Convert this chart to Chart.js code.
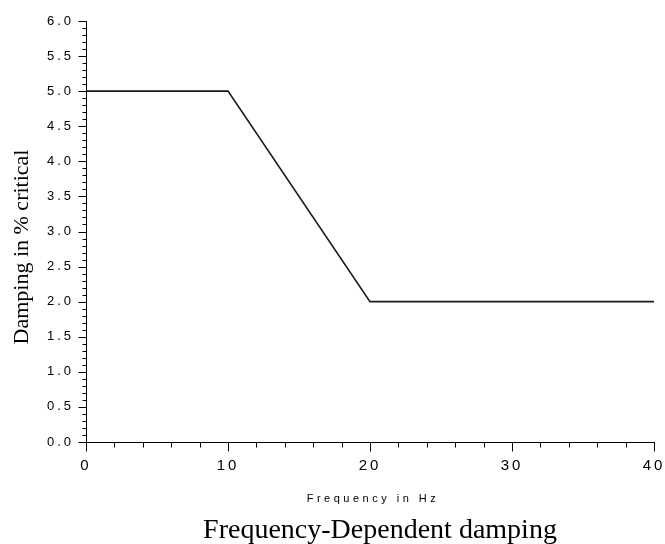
<!DOCTYPE html>
<html>
<head>
<meta charset="utf-8">
<script src="https://cdn.jsdelivr.net/npm/chart.js@4"></script>
<style>
  html, body { margin: 0; padding: 0; background: #fff; }
  #wrap { width: 665px; height: 544px; }
</style>
</head>
<body>
<div id="wrap"><canvas id="chart" width="665" height="544"></canvas></div>
<script>
// damping curve
var frequency = [0, 10, 20, 40];
var damping = [5, 5, 2, 2];

// axis ticks
var xMajorTicks = [0, 10, 20, 30, 40];
var yMajorTicks = [0, 0.5, 1, 1.5, 2, 2.5, 3, 3.5, 4, 4.5, 5, 5.5, 6];
var xMinorStep = 2;
var yMinorStep = 0.1;

var chartTitle = 'Frequency-Dependent damping';
var xTitle = 'Frequency in Hz';
var yTitle = 'Damping in % critical';

var points = frequency.map(function (f, i) {
    return { x: f, y: damping[i] };
});

// minor/major tick marks + captions
var axisDecor = {
    id: 'axisDecor',
    beforeDraw: function (chart) {
        chart.ctx.letterSpacing = '3px';
    },
    afterDraw: function (chart) {
        var ctx = chart.ctx;
        var xs = chart.scales.x;
        var ys = chart.scales.y;
        var left = Math.round(chart.chartArea.left) + 0.5;
        var bottom = Math.round(chart.chartArea.bottom) + 0.5;
        ctx.save();
        ctx.letterSpacing = '0px';
        ctx.strokeStyle = '#000';
        ctx.lineWidth = 1;
        ctx.beginPath();
        var n = Math.round((ys.max - ys.min) / yMinorStep);
        for (var i = 0; i <= n; i++) {
            var v = ys.min + i * yMinorStep;
            var py = Math.round(ys.getPixelForValue(v)) + 0.5;
            var major = yMajorTicks.some(function (t) { return Math.abs(t - v) < 1e-6; });
            ctx.moveTo(left - (major ? 8 : 4), py);
            ctx.lineTo(left, py);
        }
        var m = Math.round((xs.max - xs.min) / xMinorStep);
        for (var j = 0; j <= m; j++) {
            var u = xs.min + j * xMinorStep;
            var px = Math.round(xs.getPixelForValue(u)) + 0.5;
            var majorX = xMajorTicks.indexOf(u) !== -1;
            ctx.moveTo(px, bottom);
            ctx.lineTo(px, bottom + (majorX ? 9 : 5));
        }
        ctx.stroke();

        ctx.fillStyle = '#000';
        ctx.textAlign = 'center';
        ctx.textBaseline = 'middle';

        ctx.save();
        ctx.translate(22, 247);
        ctx.rotate(-Math.PI / 2);
        ctx.font = '22px "Liberation Serif", "Times New Roman", serif';
        ctx.fillText(yTitle, 0, 0);
        ctx.restore();

        ctx.font = '11px "Liberation Sans", Arial, sans-serif';
        ctx.letterSpacing = '3.5px';
        ctx.fillText(xTitle, 373, 499);

        ctx.letterSpacing = '0px';
        ctx.textBaseline = 'alphabetic';
        ctx.font = '28px "Liberation Serif", "Times New Roman", serif';
        ctx.fillText(chartTitle, 380, 538);
        ctx.restore();
    }
};

var ctx = document.getElementById('chart').getContext('2d');
var chart = new Chart(ctx, {
    type: 'line',
    data: {
        datasets: [{
            data: points,
            borderColor: '#1a1a1a',
            borderWidth: 1.6,
            pointRadius: 0,
            tension: 0,
            fill: false
        }]
    },
    options: {
        responsive: false,
        animation: false,
        layout: {
            padding: { top: 21, right: 11, left: 0, bottom: 0 }
        },
        plugins: {
            legend: { display: false },
            tooltip: { enabled: false },
            title: { display: false }
        },
        scales: {
            x: {
                type: 'linear',
                min: 0,
                max: 40,
                afterBuildTicks: function (scale) {
                    scale.ticks = xMajorTicks.map(function (v) { return { value: v }; });
                },
                afterFit: function (scale) {
                    scale.height = 102;
                    scale.paddingLeft = 0;
                    scale.paddingRight = 0;
                },
                grid: { display: false, drawTicks: false },
                border: { display: true, color: '#000', width: 1 },
                ticks: {
                    autoSkip: false,
                    maxRotation: 0,
                    padding: 15,
                    color: '#000',
                    font: { family: '"Liberation Sans", Arial, sans-serif', size: 15 },
                    callback: function (v) { return String(v); }
                }
            },
            y: {
                type: 'linear',
                min: 0,
                max: 6,
                afterBuildTicks: function (scale) {
                    scale.ticks = yMajorTicks.map(function (v) { return { value: v }; });
                },
                afterFit: function (scale) {
                    scale.width = 86;
                    scale.paddingTop = 0;
                    scale.paddingBottom = 0;
                },
                grid: { display: false, drawTicks: false },
                border: { display: true, color: '#000', width: 1 },
                ticks: {
                    autoSkip: false,
                    padding: 12,
                    color: '#000',
                    font: { family: '"Liberation Sans", Arial, sans-serif', size: 13 },
                    callback: function (v) { return Number(v).toFixed(1); }
                }
            }
        }
    },
    plugins: [axisDecor]
});
</script>
</body>
</html>
